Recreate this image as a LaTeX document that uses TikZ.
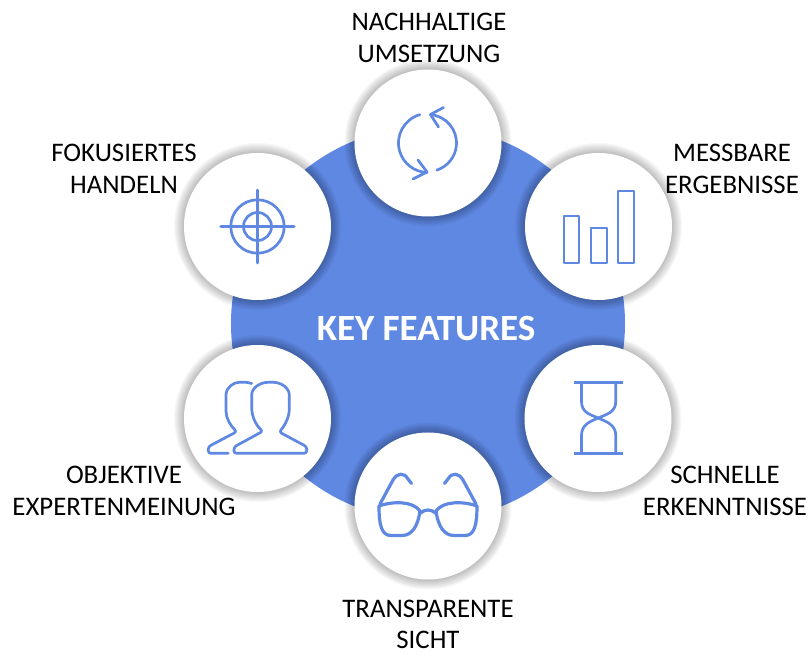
\documentclass[tikz,border=0pt]{standalone}
\usepackage{fontspec}
\setmainfont{Carlito}
\usetikzlibrary{positioning}
\definecolor{keyblue}{HTML}{5F88E3}

\begin{document}
\begin{tikzpicture}[
    x=1pt, y=1pt,
    hub/.style={circle, fill=keyblue, minimum size=394pt, inner sep=0pt},
    featurecircle/.style={circle, fill=white, minimum size=147pt, inner sep=0pt},
    caption/.style={align=center, inner sep=0pt, font=\fontsize{26.8}{31.5}\selectfont},
    icon/.style={draw=keyblue, line width=2.7pt, line join=round, line cap=round}
]

\useasboundingbox (-428,-329.5) rectangle (384,323.5);

% Central disc
\node[hub] (hub) at (0,0) {};
\node[white, font=\fontsize{37}{42}\selectfont\bfseries, inner sep=0pt] (title) at (-2,-5) {KEY FEATURES};

% Feature circles with a soft shadow
\foreach \name/\pos in {sync/{(0,180.5)}, bars/{(170.5,97)}, glass/{(170,-95)}, specs/{(0,-182.5)}, people/{(-170.5,-95)}, target/{(-170.5,97)}} {
    \foreach \grow in {1,...,10}
        \fill[black, opacity=0.028] \pos circle ({73.5+\grow});
    \node[featurecircle] (\name) at \pos {};
}

% Sync arrows
\begin{scope}[shift={(sync.center)}]
    \draw[icon] (106:29.5) arc (106:268:29.5);
    \draw[icon] (85:28.5) arc (85:-72:28.5);
    \draw[icon] (-15,-36) -- (-1,-29) -- (-10,-17);
    \draw[icon] (15.5,35.5) -- (2.5,28.5) -- (10.5,16);
\end{scope}

% Bars
\begin{scope}[shift={(bars.center)}, line width=2.2pt]
    \draw[icon, line width=2.2pt] (-34.8,-36.2) rectangle (-19.2,10.8);
    \draw[icon, line width=2.2pt] (-7.5,-36.2) rectangle (8.2,-1.2);
    \draw[icon, line width=2.2pt] (19.8,-36.2) rectangle (35.5,35.8);
\end{scope}

% Hourglass
\begin{scope}[shift={(glass.center)}]
    \draw[icon, line cap=butt] (-24.2,35.8) -- (24.8,35.8);
    \draw[icon, line cap=butt] (-24.2,-35.2) -- (24.8,-35.2);
    \draw[icon] (-16.5,35.8) -- (-16.5,17) .. controls (-16.5,6) and (-8,4) .. (0.2,0.5) .. controls (8,-3) and (17.8,-6) .. (17.8,-17) -- (17.8,-35.2);
    \draw[icon] (17.8,35.8) -- (17.8,17) .. controls (17.8,6) and (8,4) .. (0.2,0.5) .. controls (-8,-3) and (-16.5,-6) .. (-16.5,-17) -- (-16.5,-35.2);
\end{scope}

% Glasses
\begin{scope}[shift={(specs.center)}]
    \foreach \side in {1,-1} {
        \begin{scope}[xscale=\side]
            \draw[icon, line width=3.2pt] (-49,0) .. controls (-35,5) and (-15,5) .. (-8,-5) .. controls (-10,-20) and (-16,-29.5) .. (-26,-29.5) -- (-37,-29.5) .. controls (-46,-29.5) and (-49,-20) .. cycle;
            \draw[icon, line width=3.2pt] (-48,2) -- (-35,26) .. controls (-31,33) and (-24,34) .. (-20,27) -- (-16.5,22.5);
        \end{scope}
    }
    \draw[icon, line width=3.2pt] (-7.5,-7) .. controls (-3,-3) and (3,-3) .. (7.5,-7);
\end{scope}

% People
\begin{scope}[shift={(people.center)}]
    \draw[icon, rounded corners=2.5pt] (-23.5,-34.8) -- (-23.5,-28.5) -- (5.2,-12.8) .. controls (-2,-6) and (-5.8,2) .. (-5.8,14) -- (-5.8,21) .. controls (-5.8,31) and (3,36.2) .. (13.2,36.2) .. controls (23,36.2) and (31.8,31) .. (31.8,21) -- (31.8,12) .. controls (31.8,2) and (28,-6) .. (21.8,-13.5) -- (49.2,-28.2) -- (49.2,-34.8) -- cycle;
    \draw[icon, rounded corners=2.5pt] (-5.8,35) .. controls (-8,36) and (-12,36.2) .. (-15.8,36.2) .. controls (-24,36.2) and (-31.5,31) .. (-31.5,21) -- (-31.5,10) .. controls (-31.5,0) and (-27,-7) .. (-20.8,-13.2) -- (-49.2,-28.2) -- (-49.2,-34.8) -- (-29.2,-34.8);
\end{scope}

% Target
\begin{scope}[shift={(target.center)}]
    \draw[icon] (0,0) circle (26.7);
    \draw[icon] (0,0) circle (14);
    \draw[icon] (-36.7,0) -- (36.7,0);
    \draw[icon] (0,-36.5) -- (0,36.5);
\end{scope}

% Captions
\node[caption] (synctext) at (1,285.7) {NACHHALTIGE\\UMSETZUNG};
\node[caption] (barstext) at (304,154.7) {MESSBARE\\ERGEBNISSE};
\node[caption] (glasstext) at (297,-167.3) {SCHNELLE\\ERKENNTNISSE};
\node[caption] (specstext) at (0,-301) {TRANSPARENTE\\SICHT};
\node[caption] (peopletext) at (-304,-167.3) {OBJEKTIVE\\EXPERTENMEINUNG};
\node[caption] (targettext) at (-304,154.7) {FOKUSIERTES\\HANDELN};

\end{tikzpicture}
\end{document}
